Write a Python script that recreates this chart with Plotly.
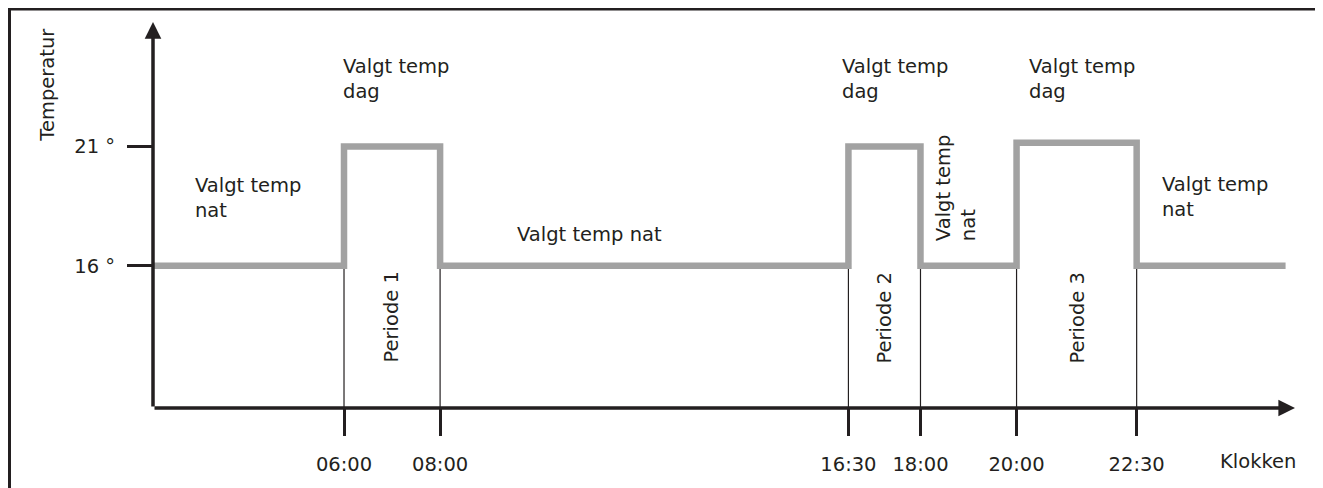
import plotly.graph_objects as go

# ---- data ----
switch_hours = [2.0, 6.0, 8.0, 16.5, 18.0, 20.0, 22.5, 25.6]
set_temps = [16, 21, 16, 21, 16, 21.15, 16, 16]
period_hours = [6.0, 8.0, 16.5, 18.0, 20.0, 22.5]
time_labels = ["06:00", "08:00", "16:30", "18:00", "20:00", "22:30"]
temp_ticks = [16, 21]
temp_labels = ["16 °", "21 °"]
period_names = ["Periode 1", "Periode 2", "Periode 3"]

# ---- layout constants (page pixels; the page body adds an 8px offset) ----
OFF = 8
W, H = 1323 - OFF, 488 - OFF
ML, MR, MT, MB = 153 - OFF, 28, 22 - OFF, 78
X_RANGE = [2.024, 25.796]
Y_RANGE = [10.042, 26.21]
INK = "#231f20"
GREY = "#a2a2a2"
FONT = "DejaVu Sans"
FS = 19.5

PW = W - ML - MR
PH = H - MT - MB


def px(xp):
    return (xp - OFF - ML) / PW


def py(yp):
    return (H - MB - (yp - OFF)) / PH


fig = go.Figure()

# thin period dividers from the night level down to the time axis
vx, vy = [], []
for h in period_hours:
    vx += [h, h, None]
    vy += [set_temps[-1], Y_RANGE[0], None]
fig.add_trace(go.Scatter(x=vx, y=vy, mode="lines",
                         line=dict(color=INK, width=1.2), hoverinfo="skip"))

# temperature profile
fig.add_trace(go.Scatter(x=switch_hours, y=set_temps, mode="lines",
                         line=dict(color=GREY, width=6.5, shape="hv"),
                         hoverinfo="skip"))

ann = []
# axis arrows
ann.append(dict(x=X_RANGE[1], y=Y_RANGE[0], ax=X_RANGE[0], ay=Y_RANGE[0],
                xref="x", yref="y", axref="x", ayref="y", text="",
                showarrow=True, arrowhead=2, arrowwidth=3.5, arrowsize=0.95,
                arrowcolor=INK, standoff=0, startstandoff=0))
ann.append(dict(x=X_RANGE[0], y=Y_RANGE[1], ax=X_RANGE[0], ay=Y_RANGE[0],
                xref="x", yref="y", axref="x", ayref="y", text="",
                showarrow=True, arrowhead=2, arrowwidth=3.5, arrowsize=0.95,
                arrowcolor=INK, standoff=0, startstandoff=0))


def label(text, x, y, xanchor="left", angle=0, align="left"):
    ann.append(dict(text=text, x=px(x), y=py(y), xref="paper", yref="paper",
                    xanchor=xanchor, yanchor="middle", textangle=angle,
                    align=align, showarrow=False,
                    font=dict(family=FONT, size=FS, color=INK)))


label("Valgt temp<br>dag", 341, 79)
label("Valgt temp<br>dag", 840, 79)
label("Valgt temp<br>dag", 1027, 79)
label("Valgt temp<br>nat", 193, 199)
label("Valgt temp<br>nat", 1160, 198)
label("Valgt temp nat", 515, 236)
label("Valgt temp<br>nat", 956, 189, xanchor="center", angle=-90)
label(period_names[0], 391, 319, xanchor="center", angle=-90)
label(period_names[1], 884, 320, xanchor="center", angle=-90)
label(period_names[2], 1077, 320, xanchor="center", angle=-90)
label("Temperatur", 48, 85, xanchor="center", angle=-90)
label("Klokken", 1258, 464, xanchor="center")

shapes = [
    dict(type="line", xref="paper", yref="paper", x0=px(8), x1=px(1340),
         y0=py(9), y1=py(9), line=dict(color=INK, width=3)),
    dict(type="line", xref="paper", yref="paper", x0=px(9.5), x1=px(9.5),
         y0=py(9), y1=py(500), line=dict(color=INK, width=3)),
]

fig.update_layout(
    width=W, height=H,
    margin=dict(l=ML, r=MR, t=MT, b=MB, pad=0),
    paper_bgcolor="white", plot_bgcolor="white",
    showlegend=False,
    annotations=ann, shapes=shapes,
    font=dict(family=FONT, size=FS, color=INK),
    xaxis=dict(range=X_RANGE, showgrid=False, zeroline=False, showline=False,
               tickmode="array", tickvals=period_hours, ticktext=time_labels,
               ticks="outside", ticklen=27, tickwidth=3, tickcolor=INK,
               ticklabelstandoff=12,
               tickfont=dict(family=FONT, size=FS, color=INK), fixedrange=True),
    yaxis=dict(range=Y_RANGE, showgrid=False, zeroline=False, showline=False,
               tickmode="array", tickvals=temp_ticks, ticktext=temp_labels,
               ticks="outside", ticklen=25, tickwidth=3, tickcolor=INK,
               ticklabelstandoff=8,
               tickfont=dict(family=FONT, size=FS, color=INK), fixedrange=True),
)

fig.write_html("out.html", config={"displayModeBar": False})
